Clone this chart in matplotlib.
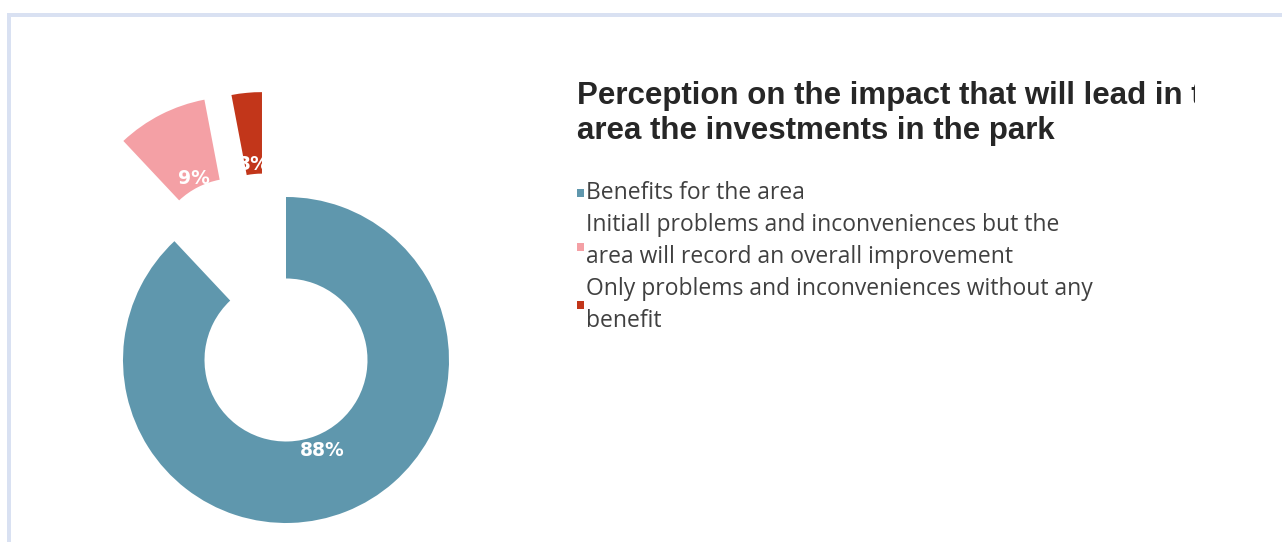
import matplotlib
matplotlib.use("Agg")
import numpy as np
import matplotlib.pyplot as plt
from matplotlib.patches import Rectangle

# ==============================
# Data
# ==============================

categories = [
    "Benefits for the area",
    "Initiall problems and inconveniences but the\narea will record an overall improvement",
    "Only problems and inconveniences without any\nbenefit",
]
values = [88, 9, 3]
colors = ["#5F97AD", "#F4A0A5", "#C2361A"]
explode = [0, 0.69, 0.66]

title = "Perception on the impact that will lead in the\narea the investments in the park"

# ==============================
# Figure
# ==============================

W, H = 1282, 542
fig = plt.figure(figsize=(W / 100, H / 100), dpi=100)
fig.patch.set_facecolor("white")

# light blue frame (top and left)
frame_color = "#D9E1F2"
fig.add_artist(Rectangle((7 / W, 0), 4 / W, (H - 13) / H, transform=fig.transFigure,
                         color=frame_color, lw=0))
fig.add_artist(Rectangle((7 / W, (H - 17) / H), (W - 7) / W, 4 / H, transform=fig.transFigure,
                         color=frame_color, lw=0))

# ==============================
# Donut
# ==============================

R = 163  # outer radius in px
cx, cy = 286, 360  # centre in px (from top-left)
ax = fig.add_axes([0, 0, 572 / W, 1])

wedges, texts, autotexts = ax.pie(
    values,
    colors=colors,
    explode=explode,
    startangle=90,
    counterclock=False,
    autopct="%.0f%%",
    pctdistance=0.6,
    wedgeprops=dict(width=0.5, linewidth=0),
    textprops=dict(color="white", fontsize=13.5, fontweight="bold", family="DejaVu Sans"),
)

# the small slice is pulled out a bit more to the left in the original
w = wedges[2]
shift = np.deg2rad((w.theta1 + w.theta2) / 2 + 7.5)
w.set_center((explode[2] * np.cos(shift), explode[2] * np.sin(shift)))

# labels of the pulled-out slices sit a little closer to the inner edge
for w, txt in zip(wedges[1:], autotexts[1:]):
    mid = np.deg2rad((w.theta1 + w.theta2) / 2)
    c = w.center
    txt.set_position((c[0] + 0.56 * np.cos(mid), c[1] + 0.56 * np.sin(mid)))

ax.set_xlim(-cx / R, cx / R)
ax.set_ylim(-(H - cy) / R, cy / R)
ax.axis("off")

# ==============================
# Title and legend
# ==============================

x0 = 577 / W
# va="baseline" on multi-line text aligns the last line
t = fig.text(x0, 1 - 139 / H, title, fontsize=22.5, fontweight="bold",
             family="Liberation Sans", color="#262626", va="baseline",
             linespacing=1.2)
t.set_clip_path(Rectangle((0, 0), 1195 / W, 1, transform=fig.transFigure))

line_h = 32.1
baseline = 199
marker_off = [-6, 15.5, 10]
for label, c, off in zip(categories, colors, marker_off):
    first = baseline
    for line in label.split("\n"):
        fig.text(586 / W, 1 - baseline / H, line, fontsize=16.5, family="Open Sans",
                 color="#404040", va="baseline")
        baseline += line_h
    # legend marker
    my = first + off
    fig.add_artist(Rectangle((577 / W, 1 - (my + 4) / H), 7 / W, 8 / H,
                             transform=fig.transFigure, color=c, lw=0))

fig.savefig("out.png", dpi=100)
plt.close()
